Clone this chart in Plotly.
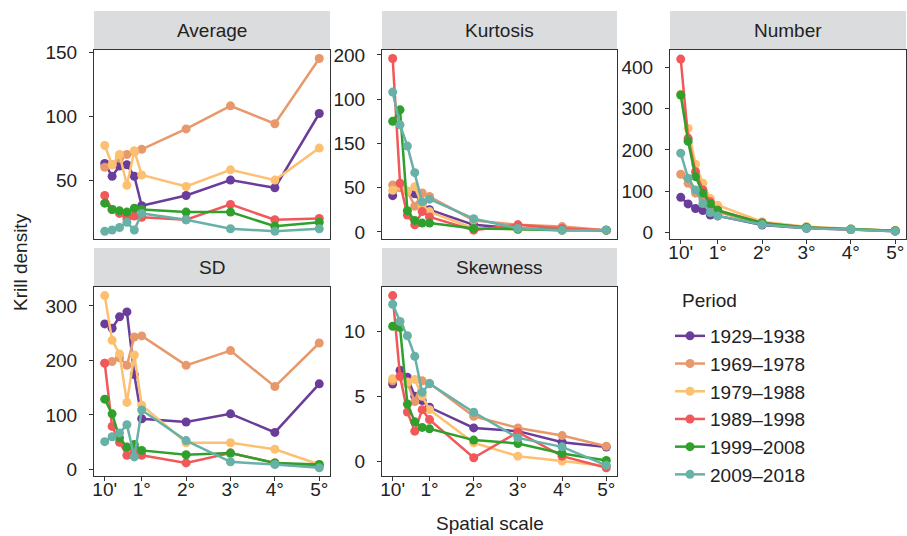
import plotly.graph_objects as go

# ---------------- data ----------------
X_DEG = [1/6, 2/6, 3/6, 4/6, 5/6, 1, 2, 3, 4, 5]
X_TICKVALS = [1/6, 1, 2, 3, 4, 5]
X_TICKTEXT = ["10'", "1°", "2°", "3°", "4°", "5°"]

PERIODS = ["1929–1938", "1969–1978", "1979–1988", "1989–1998", "1999–2008", "2009–2018"]
COLORS = ["#6A3D9A", "#E8996C", "#FDC070", "#F0585A", "#2FA02C", "#67B1A7"]

AVERAGE = {
    "1929–1938": [63, 53, 61, 62, 53, 30, 38, 50, 44, 102],
    "1969–1978": [60, 62, 67, 70, 72, 74, 90, 108, 94, 145],
    "1979–1988": [77, 62, 70, 46, 73, 54, 45, 58, 50, 75],
    "1989–1998": [38, 27, 24, 20, 22, 21, 19, 31, 19, 20],
    "1999–2008": [32, 27, 26, 25, 28, 27, 25, 25, 14, 17],
    "2009–2018": [10, 11, 13, 17, 11, 24, 19, 12, 10, 12],
}
KURTOSIS = {
    "1929–1938": [41, 52, 46, 43, 32, 25, 8, 4, 3, 2],
    "1969–1978": [53, 50, 46, 29, 44, 40, 13, 8, 6, 2],
    "1979–1988": [47, 52, 46, 51, 30, 23, 4, 3, 2, 2],
    "1989–1998": [196, 55, 19, 8, 23, 17, 2, 8, 4, 2],
    "1999–2008": [125, 138, 24, 13, 10, 10, 4, 3, 2, 2],
    "2009–2018": [158, 121, 97, 67, 34, 37, 15, 4, 2, 2],
}
KURTOSIS_TICKVALS = [0, 50, 100, 150, 200]
KURTOSIS_TICKTEXT = ["0", "50", "150", "100", "200"]

NUMBER = {
    "1929–1938": [85, 69, 58, 53, 42, 40, 18, 10, 7, 3],
    "1969–1978": [141, 119, 95, 80, 62, 50, 20, 11, 7, 4],
    "1979–1988": [335, 252, 165, 119, 82, 66, 26, 14, 8, 4],
    "1989–1998": [420, 228, 147, 103, 74, 54, 23, 12, 7, 4],
    "1999–2008": [333, 221, 135, 95, 69, 53, 23, 12, 8, 4],
    "2009–2018": [192, 131, 103, 70, 48, 40, 19, 10, 7, 3],
}
SD = {
    "1929–1938": [267, 259, 280, 289, 174, 93, 87, 102, 68, 157],
    "1969–1978": [195, 198, 205, 191, 243, 245, 191, 218, 152, 232],
    "1979–1988": [319, 237, 212, 123, 210, 118, 49, 49, 37, 9],
    "1989–1998": [195, 79, 50, 26, 34, 26, 12, 30, 12, 7],
    "1999–2008": [129, 102, 58, 41, 46, 35, 27, 30, 12, 9],
    "2009–2018": [51, 60, 67, 82, 23, 109, 53, 14, 9, 3],
}
SKEWNESS = {
    "1929–1938": [5.95, 7.0, 6.46, 5.0, 4.67, 4.15, 2.56, 2.31, 1.46, 1.08],
    "1969–1978": [6.2, 6.5, 6.0, 4.6, 6.2, 6.0, 3.46, 2.56, 1.97, 1.15],
    "1979–1988": [6.36, 6.5, 6.1, 6.3, 5.0, 3.97, 1.41, 0.38, 0.0, -0.38],
    "1989–1998": [12.77, 6.54, 3.79, 2.31, 3.97, 3.2, 0.26, 2.23, 0.38, -0.51],
    "1999–2008": [10.4, 10.3, 4.4, 3.03, 2.6, 2.49, 1.62, 1.36, 0.59, 0.05],
    "2009–2018": [12.1, 10.77, 9.67, 8.08, 5.31, 5.97, 3.77, 1.79, 1.1, -0.33],
}

# ---------------- layout helpers ----------------
W, H = 907, 536
FONT = "Liberation Sans, Arial, sans-serif"
TXT = "#222222"
STRIP = "#DBDCDE"
FS = 19

def fx(px):
    return px / W

def fy(px):
    return 1 - px / H

# (title, data, x0, x1, y0(top), y1(bottom), yrange, tickvals, ticktext, show x labels)
panels = [
    ("Average", AVERAGE, 94, 330, 50, 239, [4, 151.6], [50, 100, 150], None, False),
    ("Kurtosis", KURTOSIS, 382, 617, 50, 239, [-8, 205.6], KURTOSIS_TICKVALS, KURTOSIS_TICKTEXT, False),
    ("Number", NUMBER, 670, 906, 50, 239, [-16, 442], [0, 100, 200, 300, 400], None, True),
    ("SD", SD, 94, 330, 287, 476, [-12, 334.7], [0, 100, 200, 300], None, True),
    ("Skewness", SKEWNESS, 382, 617, 287, 476, [-1.15, 13.43], [0, 5, 10], None, True),
]

fig = go.Figure()
layout = dict(
    template="none",
    width=W, height=H, margin=dict(l=0, r=0, t=0, b=0, pad=0),
    paper_bgcolor="white", plot_bgcolor="white",
    font=dict(family=FONT, size=FS, color=TXT),
    shapes=[], annotations=[],
)

for i, (title, data, x0, x1, y0, y1, yr, tv, tt, showx) in enumerate(panels):
    n = "" if i == 0 else str(i + 1)
    xa, ya = "x" + n, "y" + n
    for p, c in zip(PERIODS, COLORS):
        fig.add_trace(go.Scatter(
            x=X_DEG, y=data[p], mode="lines+markers", name=p,
            line=dict(color=c, width=2.5), marker=dict(color=c, size=9),
            xaxis=xa, yaxis=ya, showlegend=(i == 0), legendgroup=p,
        ))
    layout["xaxis" + n] = dict(
        domain=[fx(x0), fx(x1)], anchor=ya, range=[-0.075, 5.242],
        tickvals=X_TICKVALS, ticktext=X_TICKTEXT, showticklabels=showx,
        ticks="outside" if showx else "", ticklen=4, tickcolor="#333333", tickwidth=1,
        showline=True, mirror=True, linecolor="#333333", linewidth=1,
        showgrid=False, zeroline=False, tickfont=dict(size=FS, color=TXT),
        automargin=False, ticklabelstandoff=-8,
    )
    ydict = dict(
        domain=[fy(y1), fy(y0)], anchor=xa, range=yr, tickvals=tv,
        ticks="outside", ticklen=4, tickcolor="#333333", tickwidth=1,
        showline=True, mirror=True, linecolor="#333333", linewidth=1,
        showgrid=False, zeroline=False, tickfont=dict(size=FS, color=TXT),
        ticklabelstandoff=8, automargin=False,
    )
    if tt is not None:
        ydict["ticktext"] = tt
    layout["yaxis" + n] = ydict
    # strip
    layout["shapes"].append(dict(
        type="rect", xref="paper", yref="paper",
        x0=fx(x0), x1=fx(x1), y0=fy(y0), y1=fy(y0 - 39),
        fillcolor=STRIP, line=dict(width=0), layer="below",
    ))
    layout["annotations"].append(dict(
        text=title, xref="paper", yref="paper", x=fx((x0 + x1) / 2), y=fy(y0 - 19.5),
        xanchor="center", yanchor="middle", showarrow=False,
        font=dict(size=FS, color=TXT),
    ))

layout["annotations"].append(dict(
    text="Krill density", xref="paper", yref="paper", x=fx(20), y=fy(262),
    xanchor="center", yanchor="middle", textangle=-90, showarrow=False,
    font=dict(size=FS, color=TXT),
))
layout["annotations"].append(dict(
    text="Spatial scale", xref="paper", yref="paper", x=fx(490), y=fy(523),
    xanchor="center", yanchor="middle", showarrow=False,
    font=dict(size=FS, color=TXT),
))
layout["annotations"].append(dict(
    text="Period", xref="paper", yref="paper", x=fx(680), y=fy(300),
    xanchor="left", yanchor="middle", showarrow=False,
    font=dict(size=FS, color=TXT),
))
layout["legend"] = dict(
    x=fx(670), y=fy(317), xanchor="left", yanchor="top",
    font=dict(size=FS, color=TXT),
    bgcolor="rgba(0,0,0,0)", tracegroupgap=0, itemwidth=30,
)

fig.update_layout(**layout)
fig.write_html("out.html")
